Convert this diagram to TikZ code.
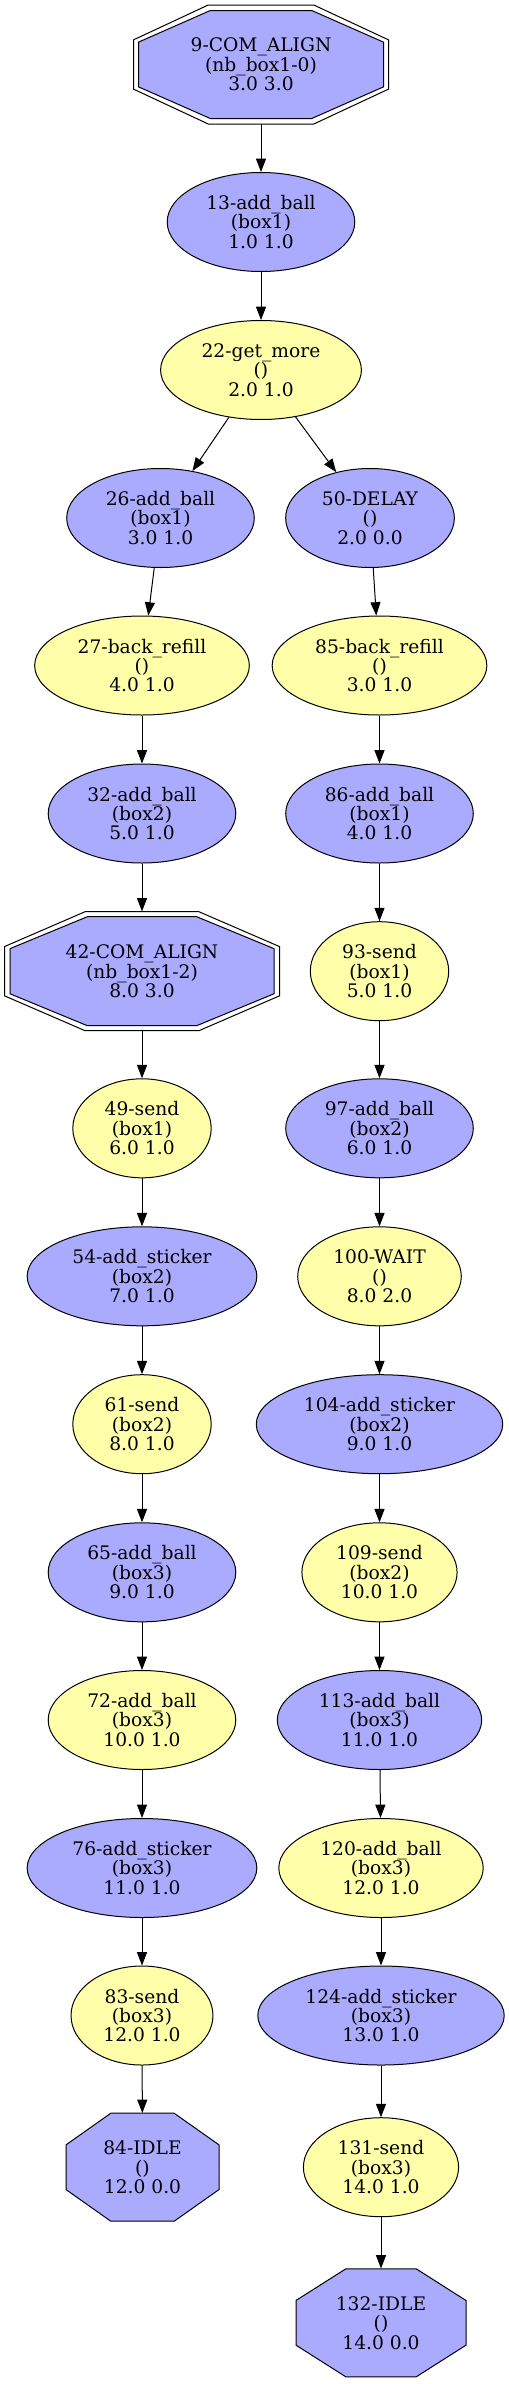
\documentclass[tikz,border=0pt]{standalone}
\usepackage{fontspec}
\setmainfont{DejaVu Serif}
\usetikzlibrary{arrows.meta,shapes.geometric}

% octagon round a centre: fill, centre, half width, half height (px)
\newcommand{\drawOctagon}[4][white]{%
  \filldraw[fill=#1, line width=0.75pt] (#2)
    +(-#3,-0.414*#4) -- +(-0.414*#3,-#4) -- +(0.414*#3,-#4) -- +(#3,-0.414*#4)
    -- +(#3,0.414*#4) -- +(0.414*#3,#4) -- +(-0.414*#3,#4) -- +(-#3,0.414*#4) -- cycle;}

\begin{document}
\begin{tikzpicture}[x=0.75pt, y=-0.75pt,
    act/.style={ellipse, draw=black, line width=0.75pt, minimum height=74.25pt,
        inner xsep=8.7pt, inner ysep=0pt, align=center, font=\fontsize{14}{14.6}\selectfont},
    actblue/.style={act, fill=nodeBlue},
    actyellow/.style={act, fill=nodeYellow},
    octnode/.style={rectangle, inner sep=0pt, align=center, font=\fontsize{14}{14.6}\selectfont},
    flow/.style={-{Triangle[length=10pt,width=7.5pt]}, line width=0.75pt}]

    \definecolor{nodeBlue}{HTML}{AAAAFF}
    \definecolor{nodeYellow}{HTML}{FFFFAA}

    \useasboundingbox (0,0) rectangle (509,2384);

    % Octagon outlines
    \coordinate (c9) at (261,64.5);
    \coordinate (c42) at (142,971.2);
    \coordinate (c84) at (142.5,2167.2);
    \coordinate (c132) at (381,2322.8);
    \drawOctagon{c9}{127.5}{59.5}
    \drawOctagon[nodeBlue]{c9}{122.5}{54}
    \drawOctagon{c42}{137.5}{59.5}
    \drawOctagon[nodeBlue]{c42}{132}{54.5}
    \drawOctagon[nodeBlue]{c84}{76.5}{54}
    \drawOctagon[nodeBlue]{c132}{85}{54}

    % Top of the graph
    \node[octnode, minimum width=191.25pt, minimum height=89.25pt] (n9) at (c9) {9-COM\_ALIGN\\(nb\_box1-0)\\3.0 3.0};
    \node[actblue] (n13) at (261,222) {13-add\_ball\\(box1)\\1.0 1.0};
    \node[actyellow] (n22) at (261,370) {22-get\_more\\()\\2.0 1.0};

    % Left branch
    \node[actblue] (n26) at (160.5,518) {26-add\_ball\\(box1)\\3.0 1.0};
    \node[actyellow] (n27) at (142,665.5) {27-back\_refill\\()\\4.0 1.0};
    \node[actblue] (n32) at (142,813.5) {32-add\_ball\\(box2)\\5.0 1.0};
    \node[octnode, minimum width=206.25pt, minimum height=89.25pt] (n42) at (c42) {42-COM\_ALIGN\\(nb\_box1-2)\\8.0 3.0};
    \node[actyellow] (n49) at (142,1128.3) {49-send\\(box1)\\6.0 1.0};
    \node[actblue] (n54) at (142,1276.3) {54-add\_sticker\\(box2)\\7.0 1.0};
    \node[actyellow] (n61) at (142,1424.2) {61-send\\(box2)\\8.0 1.0};
    \node[actblue] (n65) at (142,1572.3) {65-add\_ball\\(box3)\\9.0 1.0};
    \node[actyellow] (n72) at (142,1720) {72-add\_ball\\(box3)\\10.0 1.0};
    \node[actblue] (n76) at (142,1868) {76-add\_sticker\\(box3)\\11.0 1.0};
    \node[actyellow] (n83) at (142,2015.5) {83-send\\(box3)\\12.0 1.0};
    \node[octnode, minimum width=114.75pt, minimum height=81pt] (n84) at (c84) {84-IDLE\\()\\12.0 0.0};

    % Right branch
    \node[actblue] (n50) at (370,518) {50-DELAY\\()\\2.0 0.0};
    \node[actyellow] (n85) at (379.5,665.5) {85-back\_refill\\()\\3.0 1.0};
    \node[actblue] (n86) at (379.5,813.5) {86-add\_ball\\(box1)\\4.0 1.0};
    \node[actyellow] (n93) at (379.5,971.2) {93-send\\(box1)\\5.0 1.0};
    \node[actblue] (n97) at (379.5,1128.3) {97-add\_ball\\(box2)\\6.0 1.0};
    \node[actyellow] (n100) at (379.5,1276.3) {100-WAIT\\()\\8.0 2.0};
    \node[actblue] (n104) at (379.5,1424.2) {104-add\_sticker\\(box2)\\9.0 1.0};
    \node[actyellow] (n109) at (379.5,1572.3) {109-send\\(box2)\\10.0 1.0};
    \node[actblue] (n113) at (379.5,1720) {113-add\_ball\\(box3)\\11.0 1.0};
    \node[actyellow] (n120) at (381,1868) {120-add\_ball\\(box3)\\12.0 1.0};
    \node[actblue] (n124) at (381,2015.5) {124-add\_sticker\\(box3)\\13.0 1.0};
    \node[actyellow] (n131) at (381,2167.2) {131-send\\(box3)\\14.0 1.0};
    \node[octnode, minimum width=127.5pt, minimum height=81pt] (n132) at (c132) {132-IDLE\\()\\14.0 0.0};

    % Draw edges
    \foreach \a/\b in {n9/n13, n13/n22, n22/n26, n22/n50,
        n26/n27, n27/n32, n32/n42, n42/n49, n49/n54, n54/n61, n61/n65,
        n65/n72, n72/n76, n76/n83, n83/n84,
        n50/n85, n85/n86, n86/n93, n93/n97, n97/n100, n100/n104,
        n104/n109, n109/n113, n113/n120, n120/n124, n124/n131, n131/n132}
        \draw[flow] (\a) -- (\b);

\end{tikzpicture}
\end{document}
